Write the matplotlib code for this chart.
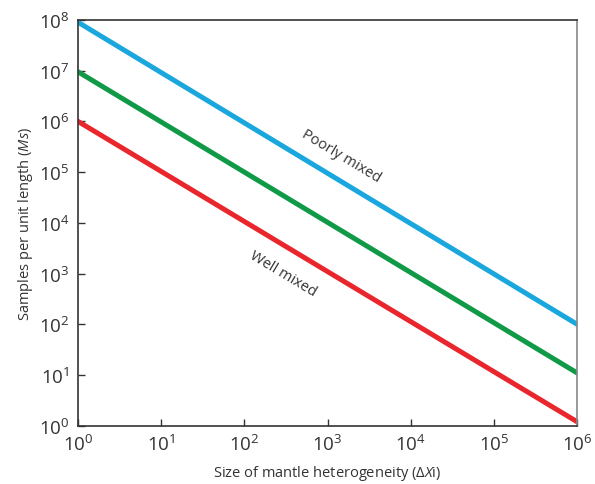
import matplotlib
matplotlib.use("Agg")
import matplotlib.pyplot as plt
import numpy as np

plt.rcParams["font.family"] = ["Open Sans", "DejaVu Sans"]
plt.rcParams["mathtext.fontset"] = "custom"
plt.rcParams["mathtext.rm"] = "Open Sans"
plt.rcParams["mathtext.it"] = "Open Sans:italic"

# size of heterogeneity (x) and samples per unit length for each mixing state
size = [1, 1e6]
poorly = [0.9e8, 1e2]
middle = [0.95e7, 1.1e1]
well = [1e6, 1.2e0]

x_ticks = [1, 1e1, 1e2, 1e3, 1e4, 1e5, 1e6]
y_ticks = [1, 1e1, 1e2, 1e3, 1e4, 1e5, 1e6, 1e7, 1e8]

fig = plt.figure(figsize=(5.95, 4.85), dpi=100)
ax = fig.add_axes([0.131, 0.12, 0.839, 0.837])

ax.plot(size, poorly, color="#1aa7de", lw=3.6, solid_capstyle="round")
ax.plot(size, middle, color="#109a48", lw=3.6, solid_capstyle="round")
ax.plot(size, well, color="#e8262c", lw=3.6, solid_capstyle="round")

ax.set_xscale("log")
ax.set_yscale("log")
ax.set_xlim(1, 1e6)
ax.set_ylim(1, 1e8)
ax.set_xticks(x_ticks)
ax.set_yticks(y_ticks)
ax.set_xticklabels([f"$10^{{{i}}}$" for i in range(7)])
ax.set_yticklabels([f"$10^{{{i}}}$" for i in range(9)])
ax.minorticks_off()
ax.tick_params(direction="in", length=5, width=1, labelsize=13.5, colors="#333333", pad=6)

for s in ["left", "bottom", "top"]:
    ax.spines[s].set_color("#333333")
    ax.spines[s].set_linewidth(1.2)
ax.spines["right"].set_color("#888888")
ax.spines["right"].set_linewidth(1.2)

ax.text(1.45e3, 2.1e5, "Poorly mixed", rotation=-31, fontsize=10.5, color="#333333",
        ha="center", va="center")
ax.text(2.9e2, 1.0e3, "Well mixed", rotation=-31, fontsize=10.5, color="#333333",
        ha="center", va="center")

ax.set_xlabel(r"Size of mantle heterogeneity ($\Delta X$i)", fontsize=10.5,
              color="#333333", labelpad=6)
ax.set_ylabel(r"Samples per unit length ($Ms$)", fontsize=10.5, color="#333333",
              labelpad=3)

fig.savefig("out.png", dpi=100)
